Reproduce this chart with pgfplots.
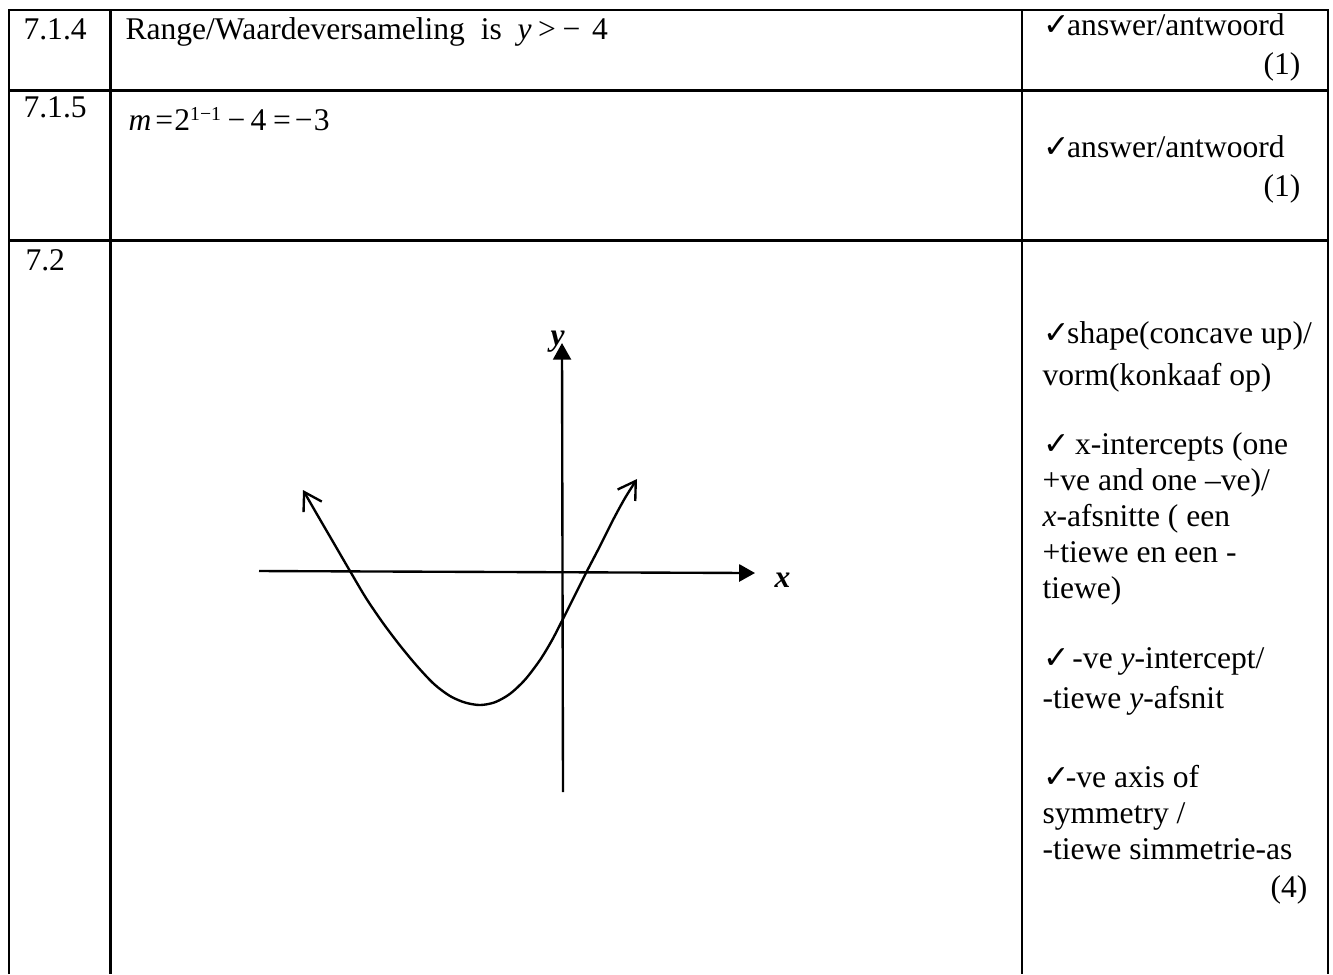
\documentclass[border=0pt,12pt]{standalone}
\usepackage{fontspec}
\setmainfont{Liberation Serif}
\newfontfamily\symfont{DejaVu Sans}
\usepackage{pgfplots}
\pgfplotsset{compat=1.18}
\usetikzlibrary{arrows.meta}
\newcommand{\tick}{\makebox[9pt][l]{\symfont\fontsize{12}{12}\selectfont ✓}}

\begin{document}
\begin{tikzpicture}[
txt/.style={anchor=base west, inner sep=0pt, font=\normalsize},
rt/.style={anchor=base east, inner sep=0pt, font=\normalsize},
]
\begin{axis}[
width=506.54pt, height=370.12pt, scale only axis,
xmin=0, xmax=1333, ymin=0, ymax=974, y dir=reverse,
hide axis, clip=false,
]
% table rules (pixel coordinates, y downwards)
\draw[line width=0.8pt] (9,974) -- (9,10) -- (1328,10) -- (1328,974);
\draw[line width=0.8pt] (9,90.5) -- (1328,90.5);
\draw[line width=0.8pt] (9,240.5) -- (1328,240.5);
\draw[line width=0.8pt] (110.5,10) -- (110.5,974);
\draw[line width=0.8pt] (1022,10) -- (1022,974);

% row 7.1.4
\node[txt] at (23,39) {7.1.4};
\node[txt] at (125,39) {Range/Waardeversameling\ \ is\ \ \textit{y}\kern2.5pt>\kern2.5pt−\kern4.5pt4};
\node[txt] at (1043,35) {\tick answer/antwoord};
\node[rt] at (1301,74) {(1)};

% row 7.1.5
\node[txt] at (23,117) {7.1.5};
\node[txt] at (128,130) {\textit{m}\kern1.5pt=\kern0.5pt2\raisebox{3.8pt}{\fontsize{7.5}{8}\selectfont 1−1}\kern2.5pt−\kern2pt4\kern2.5pt=\kern1.5pt−\kern0.5pt3};
\node[txt] at (1043,157) {\tick answer/antwoord};
\node[rt] at (1301,196) {(1)};

% row 7.2
\node[txt] at (25,270) {7.2};
\node[txt] at (1043,343) {\tick shape(concave up)/};
\node[txt] at (1042,385) {vorm(konkaaf op)};
\node[txt] at (1043,454) {\tick\ x-intercepts (one};
\node[txt] at (1042,490) {+ve and one –ve)/};
\node[txt] at (1042,526) {\textit{x}-afsnitte ( een};
\node[txt] at (1042,562) {+tiewe en een -};
\node[txt] at (1042,598) {tiewe)};
\node[txt] at (1043,668) {\tick\kern2pt-ve \textit{y}-intercept/};
\node[txt] at (1042,708) {-tiewe \textit{y}-afsnit};
\node[txt] at (1043,787) {\tick\kern-0.5pt-ve axis of};
\node[txt] at (1042,823) {symmetry /};
\node[txt] at (1042,859) {-tiewe simmetrie-as};
\node[rt] at (1308,897) {(4)};

% sketch axes
\draw[line width=0.9pt, -{Triangle[length=6pt,width=6.5pt]}] (259,571) -- (755,573);
\draw[line width=0.9pt, -{Triangle[length=6.3pt,width=6.8pt]}] (563,792) -- (562,343);
\node[txt, font=\bfseries\itshape] at (550,345) {y};
\node[txt, font=\bfseries\itshape] at (774,587) {x};

% sketched parabola
\addplot[black, line width=0.9pt, smooth, tension=0.5, mark=none,
  arrows={Straight Barb[length=6.5pt,width=8pt]-Straight Barb[length=6.5pt,width=8pt]}]
coordinates {
(303,490)(318,516)(334,543.5)(350,571)(366,598)(383,623)(400,645.5)(417,666)
(434,684)(450,696)(465,702.5)(480,705)(495,702.2)(510,693.8)(525,679.7)(540,660)
(552,640.2)(563,618.9)(575,595)(587,571)(600,546)(613,520)(625,498)(637,479)
};
\end{axis}
\pgfresetboundingbox
\path[use as bounding box] (0,0) rectangle (506.54pt,370.12pt);
\end{tikzpicture}
\end{document}
